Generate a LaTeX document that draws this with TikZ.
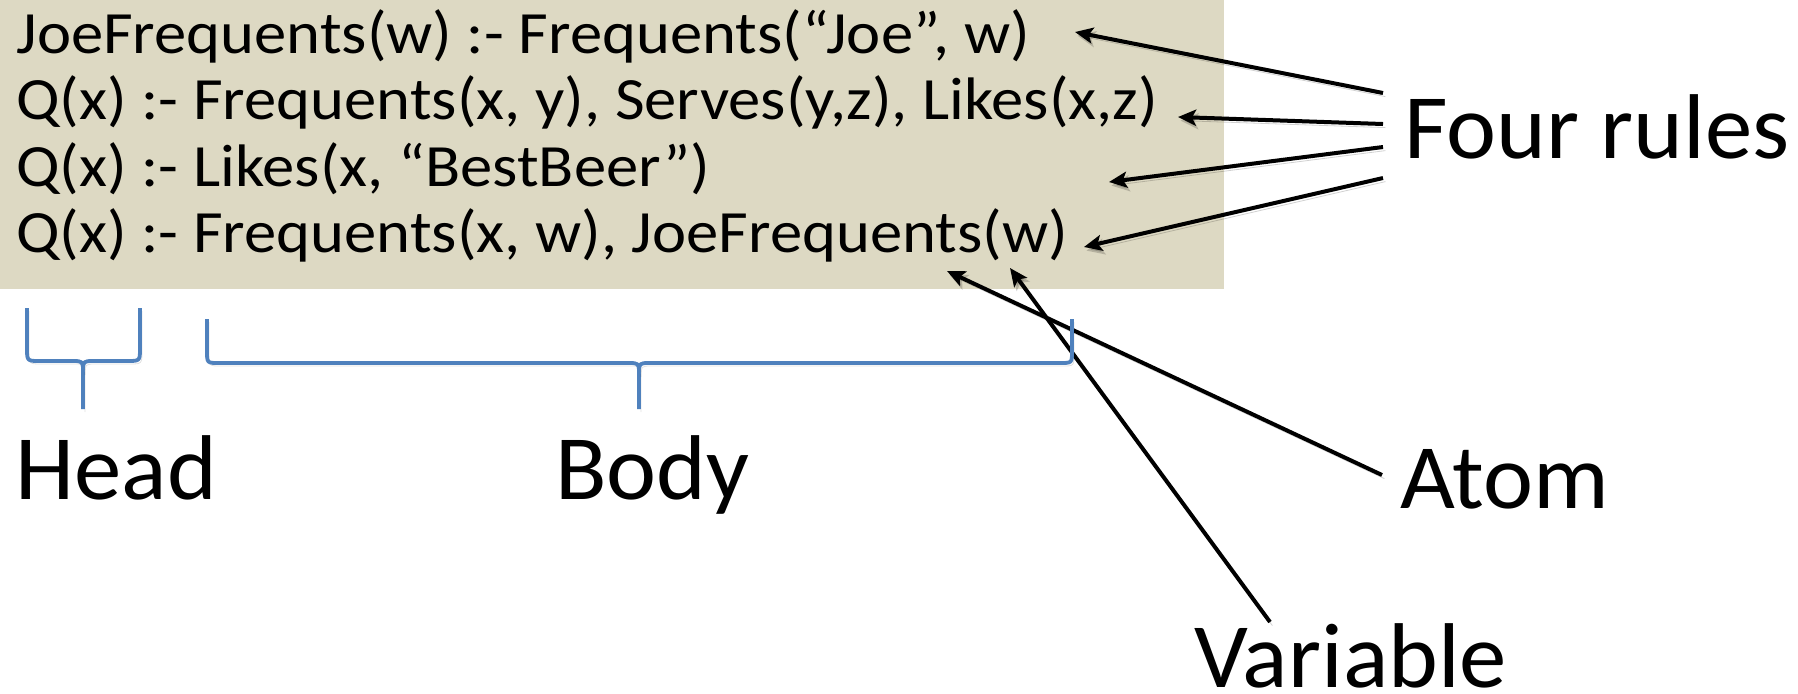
\documentclass[tikz,border=0pt]{standalone}
\usepackage{fontspec}
\setmainfont{Carlito}
\newfontfamily\rulefont[FakeStretch=1.077]{Carlito}
\newfontfamily\labelfont[FakeStretch=1.03]{Carlito}
\usetikzlibrary{arrows.meta}
\definecolor{tanbg}{HTML}{DDD9C3}
\definecolor{braceblue}{HTML}{4F81BD}
\tikzset{
  rule/.style={anchor=base west, inner sep=0pt, font=\rulefont\fontsize{30pt}{36pt}\selectfont},
  label/.style={anchor=base west, inner sep=0pt, font=\labelfont\fontsize{46pt}{55pt}\selectfont},
  pointer/.style={line width=2pt, -{Stealth[length=9pt,width=8pt,inset=2pt]},
    preaction={draw=black, opacity=0.18, transform canvas={shift={(1.2pt,-1.8pt)}}}},
  brace/.style={draw=braceblue, line width=1.9pt, line join=round,
    preaction={draw=black, opacity=0.12, transform canvas={shift={(1pt,-1.5pt)}}}}
}
\begin{document}
\begin{tikzpicture}[x=0.5pt, y=-0.5pt]
\useasboundingbox (0,0) rectangle (1798,693);
\fill[white] (0,0) rectangle (1798,693);
% shaded panel holding the rules
\fill[tanbg] (0,0) rectangle (1224,289);
\node[rule] (r1) at (16,53)  {JoeFrequents(w) :- Frequents(“Joe”, w)};
\node[rule] (r2) at (16,119) {Q(x) :- Frequents(x, y), Serves(y,z), Likes(x,z)};
\node[rule] (r3) at (16,186) {Q(x) :- Likes(x, “BestBeer”)};
\node[rule] (r4) at (16,252) {Q(x) :- Frequents(x, w), JoeFrequents(w)};

% labels
\node[label] (four) at (1404,158) {Four rules};
\node[label] (atom) at (1400,508) {Atom};
\node[label] (var)  at (1194,687) {Variable};
\node[label] (head) at (15,499)   {Head};
\node[label] (body) at (555,499)  {Body};

% arrow end points
\coordinate (f1) at (1383,93);
\coordinate (f2) at (1383,124);
\coordinate (f3) at (1383,147);
\coordinate (f4) at (1383,178);
\coordinate (t1) at (1075,32);
\coordinate (t2) at (1178,117);
\coordinate (t3) at (1109,182);
\coordinate (t4) at (1084,247);
\coordinate (as) at (1382,475);
\coordinate (at) at (947,271);
\coordinate (vs) at (1270,622);
\coordinate (vt) at (1010,268);

\draw[pointer] (f1) -- (t1);
\draw[pointer] (f2) -- (t2);
\draw[pointer] (f3) -- (t3);
\draw[pointer] (f4) -- (t4);
\draw[pointer] (as) -- (at);
\draw[pointer] (vs) -- (vt);

% brace under the head
\draw[brace] (27,308) -- (27,348) .. controls (27,361) .. (40,361) -- (72,361)
  .. controls (83,361) .. (83,372) -- (83,409);
\draw[brace] (140,308) -- (140,348) .. controls (140,361) .. (127,361) -- (94,361)
  .. controls (83,361) .. (83,372);
% brace under the body
\draw[brace] (207,319) -- (207,351) .. controls (207,363) .. (219,363) -- (628,363)
  .. controls (639,363) .. (639,374) -- (639,409);
\draw[brace] (1072,319) -- (1072,351) .. controls (1072,363) .. (1060,363) -- (650,363)
  .. controls (639,363) .. (639,374);
\end{tikzpicture}
\end{document}
